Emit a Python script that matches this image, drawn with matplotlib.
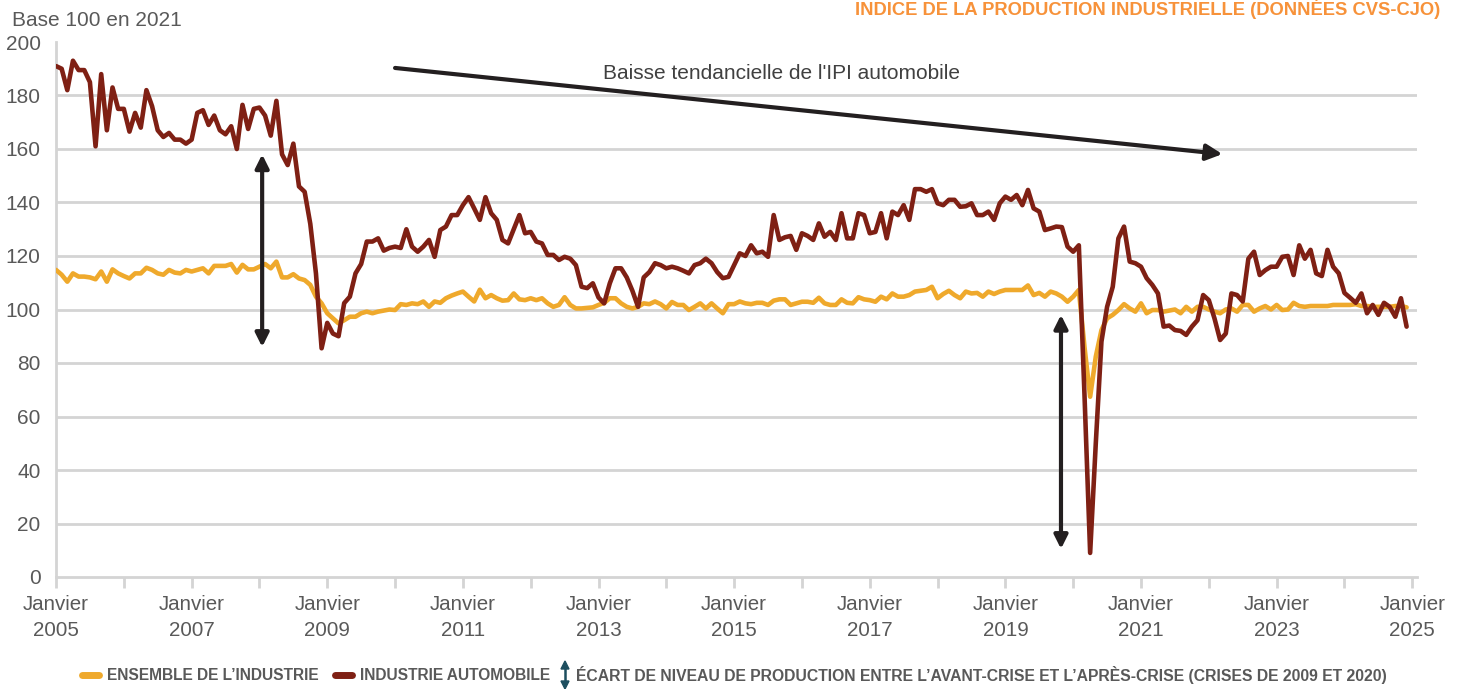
import matplotlib
matplotlib.use("Agg")
import matplotlib.pyplot as plt
import numpy as np

plt.rcParams['font.family'] = ['Liberation Sans', 'DejaVu Sans']

# monthly index, Jan 2005 -> Dec 2024 (base 100 = 2021)
industrie = [
    114.8, 113, 110.4, 113.5, 112.3, 112.3, 112, 111.3, 114.2, 110.4, 115, 113.5,
    112.5, 111.6, 113.5, 113.5, 115.6, 114.8, 113.5, 113, 114.8, 113.8, 113.5, 114.8,
    114.2, 114.8, 115.4, 113.5, 116.3, 116.3, 116.3, 117, 113.8, 116.7, 115, 115,
    116, 117, 115.4, 117.9, 112, 112, 113.2, 111.6, 111, 109.2, 104.8, 102.3,
    98.6, 96.7, 94.8, 96, 97.3, 97.3, 98.6, 99.2, 98.6, 99.2, 99.6, 100,
    99.8, 102, 101.7, 102.3, 102, 103, 101, 103, 102.5, 104.2, 105.2, 106,
    106.7, 104.8, 103, 107.4, 104.2, 105.4, 104.2, 103.3, 103.5, 106, 103.8, 103.5,
    104.2, 103.5, 104.2, 102.3, 101, 101.7, 104.6, 101.7, 100.4, 100.4, 100.6, 100.8,
    101.7, 102.5, 104.2, 104.2, 102.3, 101, 100.4, 101, 102.3, 102, 103, 102,
    100.4, 102.8, 101.7, 101.7, 99.8, 101, 102.3, 100.4, 102.3, 100.4, 98.6, 102,
    102, 103, 102.3, 102, 102.5, 102.5, 101.7, 103.3, 103.8, 103.8, 101.7, 102.3,
    102.9, 102.9, 102.5, 104.4, 102.3, 101.7, 101.7, 103.8, 102.5, 102.3, 104.6, 103.8,
    103.5, 102.9, 104.8, 103.8, 106, 104.8, 104.8, 105.4, 106.7, 107, 107.3, 108.5,
    104.2, 105.8, 107, 105.4, 104.2, 106.7, 106, 106.2, 104.8, 106.7, 105.8, 106.7,
    107.3, 107.3, 107.3, 107.3, 109, 105.4, 106.2, 104.8, 106.7, 106, 104.8, 102.9,
    104.8, 107.3, 86, 67.4, 82.4, 92.3, 96.7, 98, 99.8, 102, 100.4, 99.2,
    102.3, 98.6, 99.8, 99.8, 99.2, 99.6, 100, 98.6, 101, 99.2, 101, 101,
    100, 99.2, 98.6, 100, 100.4, 99.2, 101.7, 101.7, 99.2, 100.4, 101.3, 100,
    101.7, 99.8, 100, 102.5, 101.3, 101, 101.3, 101.3, 101.3, 101.3, 101.7, 101.7,
    101.7, 101.7, 102, 101.3, 101.3, 101, 101, 101, 101, 101.3, 101.3, 100.8,
]
automobile = [
    191, 190, 182, 193, 189.5, 189.5, 185, 161, 188, 167, 183, 175,
    175, 166.5, 173.5, 168, 182, 176, 167, 164.5, 166, 163.5, 163.5, 162,
    163.5, 173.5, 174.5, 169, 172.5, 167, 165.5, 168.5, 160, 176.5, 167.5, 175,
    175.5, 172.5, 165, 178, 158, 154, 162, 146, 144, 132, 113.5, 85.5,
    95, 91, 90, 102.4, 104.8, 113.5, 117, 125.4, 125.4, 126.6, 122, 123,
    123.5, 123, 130, 123.5, 121.6, 123.5, 126, 119.7, 129.7, 131, 135.3, 135.3,
    139, 142, 137.8, 133.5, 142, 136, 133.5, 126, 124.7, 130, 135.3, 128.5,
    129, 125.4, 124.7, 120.4, 120.4, 118.5, 119.7, 119, 116.6, 108.5, 108, 109.8,
    104.5, 102.3, 109.8, 115.4, 115.4, 112, 107, 101, 112, 114, 117.3, 116.6,
    115.4, 116, 115.4, 114.5, 113.5, 116.6, 117.3, 119, 117.3, 114, 111.7, 112.2,
    116.6, 121, 120, 124, 121, 121.6, 119.7, 135.3, 126, 127, 127.5, 122.3,
    128.5, 127.5, 126, 132.2, 127.2, 129, 126, 136, 126.6, 126.6, 136, 135.3,
    128.5, 129, 136, 126.6, 136.6, 135.3, 139, 133.5, 145, 145, 144, 145,
    139.7, 139, 141, 141, 138.4, 138.6, 139.7, 135.3, 135.3, 136.6, 133.5, 139.7,
    142.2, 141, 142.8, 139, 144.7, 137.8, 136.6, 129.7, 130.3, 131, 130.8, 123.5,
    121.6, 124, 68, 9, 50, 88, 101, 108.5, 126.6, 131, 117.9, 117.3,
    116, 111.7, 109.2, 106, 93.6, 94, 92.3, 92, 90.5, 93.6, 96, 105.4,
    103.5, 96.7, 88.6, 91, 106, 105.4, 103, 119, 121.6, 112.9, 114.7, 116,
    116, 119.7, 120, 112.9, 124, 119, 122.3, 113.5, 112.5, 122.3, 116, 113.5,
    106.2, 104.4, 102.5, 106, 98.6, 101.7, 98, 102.5, 101, 97.3, 104.2, 93.6,
]
years = list(range(2005, 2026))
yticks = list(range(0, 201, 20))

t = 2005 + np.arange(len(automobile)) / 12

grey_txt = '#595959'
grid_c = '#d4d4d4'
dark = '#231f20'

fig = plt.figure(figsize=(14.59, 6.89), dpi=100)
ax = fig.add_axes([56 / 1459, 1 - 577 / 689, (1417 - 56) / 1459, (577 - 42) / 689])

for v in yticks[1:-1]:
    ax.axhline(v, color=grid_c, lw=2, zorder=0)

ax.plot(t, industrie, color='#efa92c', lw=3.3, solid_capstyle='round', zorder=3)
ax.plot(t, automobile, color='#7f2014', lw=3.3, solid_capstyle='round', zorder=4)

ax.set_xlim(2005, 2025.07)
ax.set_ylim(0, 200)
ax.set_yticks(yticks)
ax.set_yticklabels([str(v) for v in yticks])
ax.set_xticks(years)
ax.set_xticklabels([f"Janvier\n{y}" if (y - 2005) % 2 == 0 else '' for y in years],
                   linespacing=1.45)
ax.tick_params(axis='y', length=0, pad=11, labelsize=15, labelcolor=grey_txt)
ax.tick_params(axis='x', length=8, width=2, color=grid_c, pad=5, labelsize=14.8,
               labelcolor=grey_txt)
for s in ['top', 'right']:
    ax.spines[s].set_visible(False)
for s in ['left', 'bottom']:
    ax.spines[s].set_color(grid_c)
    ax.spines[s].set_linewidth(2)

# annotations
ax.annotate('', xy=(2022.2, 158.1), xytext=(2010.0, 190.3),
            arrowprops=dict(arrowstyle='-|>', lw=3, color=dark, mutation_scale=24,
                            shrinkA=0, shrinkB=0), zorder=5)
ax.text(2015.7, 188.3, "Baisse tendancielle de l'IPI automobile", ha='center',
        va='center', fontsize=15, color='#404040')
ax.annotate('', xy=(2008.04, 158), xytext=(2008.04, 86),
            arrowprops=dict(arrowstyle='<|-|>', lw=3, color=dark, mutation_scale=20,
                            shrinkA=0, shrinkB=0), zorder=5)
ax.annotate('', xy=(2019.82, 98), xytext=(2019.82, 10.5),
            arrowprops=dict(arrowstyle='<|-|>', lw=3, color=dark, mutation_scale=20,
                            shrinkA=0, shrinkB=0), zorder=5)

fig.text(12 / 1459, 1 - 20 / 689, 'Base 100 en 2021', ha='left', va='center',
         fontsize=15, color=grey_txt)
fig.text(1440 / 1459, 1 - 15 / 689,
         'INDICE DE LA PRODUCTION INDUSTRIELLE (DONNÉES CVS-CJO)',
         ha='right', va='baseline', fontsize=13.2, fontweight='bold', color='#f7923a')

# legend
ly = 1 - 675 / 689
fig.add_artist(plt.Line2D([82 / 1459, 99 / 1459], [ly, ly], color='#efa92c', lw=5,
                          solid_capstyle='round', transform=fig.transFigure))
fig.text(107 / 1459, ly, 'ENSEMBLE DE L\u2019INDUSTRIE', ha='left', va='center',
         fontsize=11.2, fontweight='bold', color=grey_txt)
fig.add_artist(plt.Line2D([335 / 1459, 352 / 1459], [ly, ly], color='#7f2014', lw=5,
                          solid_capstyle='round', transform=fig.transFigure))
fig.text(360 / 1459, ly, 'INDUSTRIE AUTOMOBILE', ha='left', va='center',
         fontsize=11.2, fontweight='bold', color=grey_txt)
fig.add_artist(plt.Line2D([565 / 1459, 565 / 1459], [1 - 668 / 689, 1 - 682 / 689],
                          color='#1d4e5f', lw=1.8, transform=fig.transFigure))
fig.add_artist(plt.Polygon([[561 / 1459, 1 - 669 / 689], [569 / 1459, 1 - 669 / 689],
                            [565 / 1459, 1 - 661 / 689]], closed=True,
                           color='#1d4e5f', transform=fig.transFigure))
fig.add_artist(plt.Polygon([[561 / 1459, 1 - 681 / 689], [569 / 1459, 1 - 681 / 689],
                            [565 / 1459, 1 - 689 / 689]], closed=True,
                           color='#1d4e5f', transform=fig.transFigure))
fig.text(576 / 1459, ly,
         '\u00c9CART DE NIVEAU DE PRODUCTION ENTRE L\u2019AVANT-CRISE ET L\u2019APR\u00c8S-CRISE (CRISES DE 2009 ET 2020)',
         ha='left', va='center', fontsize=11.3, fontweight='bold', color=grey_txt)

fig.savefig('out.png', dpi=100)
